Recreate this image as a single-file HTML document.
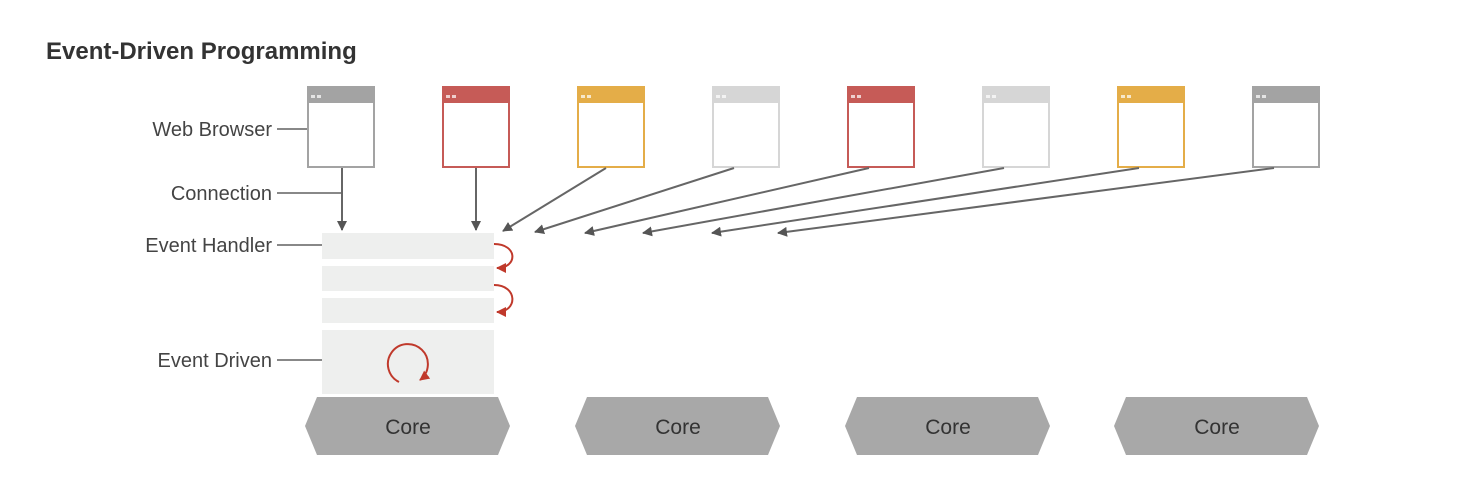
<!DOCTYPE html>
<html><head><meta charset="utf-8"><style>
html,body{margin:0;padding:0;background:#fff;}
svg{display:block;font-family:"Liberation Sans",Arial,sans-serif;}
</style></head><body>
<svg width="1474" height="496" viewBox="0 0 1474 496">
<defs>
<marker id="ah" viewBox="0 0 10 10" refX="9" refY="5" markerWidth="5" markerHeight="5" orient="auto"><path d="M0,0L10,5L0,10z" fill="#555"/></marker>
<marker id="rh" viewBox="0 0 10 10" refX="9" refY="5" markerWidth="5" markerHeight="5" orient="auto"><path d="M0,0L10,5L0,10z" fill="#c0392b"/></marker>
</defs>
<text x="46" y="59" font-size="24" font-weight="bold" fill="#333">Event-Driven Programming</text>

<g font-size="20" fill="#444" text-anchor="end">
<text x="272" y="136">Web Browser</text>
<text x="272" y="200">Connection</text>
<text x="272" y="252">Event Handler</text>
<text x="272" y="367">Event Driven</text>
</g>
<g stroke="#888" stroke-width="2">
<line x1="277" y1="129" x2="307" y2="129"/>
<line x1="277" y1="193" x2="342" y2="193"/>
<line x1="277" y1="245" x2="322" y2="245"/>
<line x1="277" y1="360" x2="387" y2="360"/>
</g>

<g id="browsers"></g>
<g id="arrows" stroke="#666" stroke-width="2" fill="none"></g>

<g fill="#eeefee">
<rect x="322" y="233" width="172" height="26"/>
<rect x="322" y="266" width="172" height="25"/>
<rect x="322" y="298" width="172" height="25"/>
<rect x="322" y="330" width="172" height="64"/>
</g>
<g stroke="#c0392b" stroke-width="2" fill="none">
<path d="M494,244 C518,244 518,268 497,268" marker-end="url(#rh)"/>
<path d="M494,285 C518,285 518,312 497,312" marker-end="url(#rh)"/>
<path d="M399,382 A20,20 0 1 1 420,380" marker-end="url(#rh)"/>
</g>

<g id="cores"></g>
<script>
const browserX=[307,442,577,712,847,982,1117,1252];
const browserColors=['#a3a3a3','#c65b57','#e4ad48','#d6d6d6','#c65b57','#d6d6d6','#e4ad48','#a3a3a3'];
const targets=[[342,230],[476,230],[503,231],[535,232],[585,233],[643,233],[712,233],[778,233]];
const coreX=[305,575,845,1114];
const NS='http://www.w3.org/2000/svg';
function mk(tag,attrs,parent){
  const e=document.createElementNS(NS,tag);
  for(const k in attrs)e.setAttribute(k,attrs[k]);
  parent.appendChild(e);return e;
}
const bg=document.getElementById('browsers');
browserX.forEach((x,i)=>{
  const g=document.createElementNS(NS,'g');
  
  
  bg.appendChild(g);
  const c=browserColors[i];
  mk('rect',{x:x+1,y:87,width:66,height:80,fill:'#fff',stroke:c,'stroke-width':2},g);
  mk('rect',{x:x,y:86,width:68,height:17,fill:c},g);
  mk('rect',{x:x+4,y:95,width:4,height:3,fill:'#fff',opacity:0.7},g);
  mk('rect',{x:x+10,y:95,width:4,height:3,fill:'#fff',opacity:0.7},g);
});
const ag=document.getElementById('arrows');
targets.forEach((t,i)=>{
  const l=document.createElementNS(NS,'line');
  
  
  const sx=i<2?t[0]:browserX[i]+(i===2?29:22);
  l.setAttribute('x1',sx);l.setAttribute('y1',168);
  l.setAttribute('x2',t[0]);l.setAttribute('y2',t[1]);
  l.setAttribute('marker-end','url(#ah)');
  ag.appendChild(l);
});
const cg=document.getElementById('cores');
coreX.forEach(x=>{
  const g=document.createElementNS(NS,'g');
  
  
  cg.appendChild(g);
  mk('polygon',{points:`${x+12},397 ${x+193},397 ${x+205},426 ${x+193},455 ${x+12},455 ${x},426`,fill:'#a8a8a8'},g);
  const t=mk('text',{x:x+103,y:434,'font-size':21,fill:'#333','text-anchor':'middle'},g);
  t.textContent='Core';
});
</script>
</svg>
</body></html>
